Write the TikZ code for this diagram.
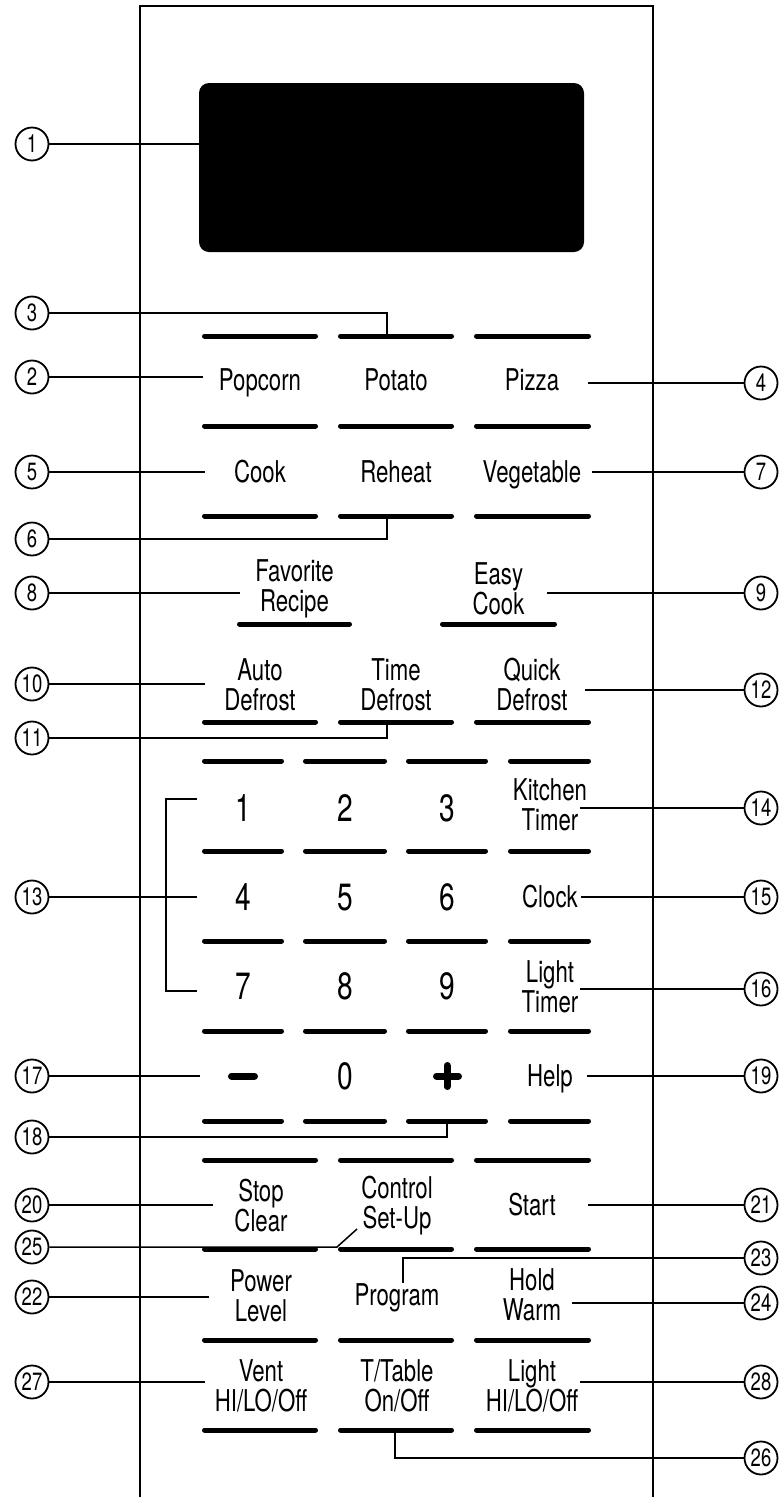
\documentclass[tikz,border=0pt]{standalone}
\usepackage{fontspec}
\setmainfont{TeX Gyre Heros}[FakeStretch=0.74]
\begin{document}
\begin{tikzpicture}[x=1pt,y=-1pt]
    \tikzset{%
      panel/.style={line width=2.6pt},
      bar/.style={line width=5pt, line cap=round},
      lead/.style={line width=1.5pt},
      num/.style={circle, draw, line width=1.8pt, minimum size=33pt,
        inner sep=0pt, fill=white, font=\fontsize{25}{25}\selectfont},
      word/.style={anchor=base, inner sep=0pt, font=\fontsize{30}{30}\selectfont},
      twoline/.style={align=center, inner sep=0pt, font=\fontsize{30}{30}\selectfont},
      digit/.style={anchor=base, inner sep=0pt, font=\fontsize{38}{38}\selectfont},
      sign/.style={line width=7pt, line cap=round},
      display/.style={fill=black, rounded corners=10pt, inner sep=0pt,
        minimum width=385pt, minimum height=169pt},
    }
    \useasboundingbox (0,0) rectangle (782,1497);
    % front panel, open at the bottom
    \draw [panel] (140,1497) -- (140,6) -- (653,6) -- (653,1497);
    \node[display] (disp) at (391.5,167.5) {};

    % key bars
    \foreach \y in {336,426,516,722,1160,1249,1340,1430}
      \foreach \a/\b in {204.5/315.5,340.5/451.5,476.5/588.5}
        \draw [bar] (\a,\y) -- (\b,\y);
    \draw [bar] (239.5,624) -- (349.5,624);
    \draw [bar] (442.5,624) -- (554.5,624);
    \foreach \y in {761,851,941,1031,1121}
      \foreach \a/\b in {204.5/281.5,305.5/384.5,408.5/485.5,510.5/588.5}
        \draw [bar] (\a,\y) -- (\b,\y);

    % key labels
    \node[word] (popcorn) at (260,390) {Popcorn};
    \node[word] (potato) at (396,390) {Potato};
    \node[word] (pizza) at (532,390) {Pizza};
    \node[word] (cook) at (260,482) {Cook};
    \node[word] (reheat) at (396,482) {Reheat};
    \node[word] (vegetable) at (532,482) {Vegetable};
    \node[twoline] (favorite) at (294.5,589) {Favorite\\Recipe};
    \node[twoline] (easy) at (498.5,589) {Easy\\Cook};
    \node[twoline] (autodef) at (260,685) {Auto\\Defrost};
    \node[twoline] (timedef) at (396,685) {Time\\Defrost};
    \node[twoline] (quickdef) at (532,685) {Quick\\Defrost};
    \node[digit] (d1) at (243,821) {1};
    \node[digit] (d2) at (345,821) {2};
    \node[digit] (d3) at (447,821) {3};
    \node[twoline] (ktimer) at (550,805) {Kitchen\\Timer};
    \node[digit] (d4) at (243,910) {4};
    \node[digit] (d5) at (345,910) {5};
    \node[digit] (d6) at (447,910) {6};
    \node[word] (clock) at (550,907) {Clock};
    \node[digit] (d7) at (243,999) {7};
    \node[digit] (d8) at (345,999) {8};
    \node[digit] (d9) at (447,999) {9};
    \node[twoline] (ltimer) at (550,987) {Light\\Timer};
    \draw [sign] (231.5,1076) -- (254.5,1076);
    \node[digit] (d0) at (345,1089) {0};
    \draw [sign] (436.5,1076) -- (458.5,1076);
    \draw [sign] (447,1065.5) -- (447,1086.5);
    \node[word] (help) at (550,1086) {Help};
    \node[twoline] (stop) at (261,1206) {Stop\\Clear};
    \node[twoline] (control) at (397,1206) {Control\\Set-Up};
    \node[word] (start) at (532,1215) {Start};
    \node[twoline] (power) at (261,1296) {Power\\Level};
    \node[word] (program) at (397,1305) {Program};
    \node[twoline] (hold) at (532,1295) {Hold\\Warm};
    \node[twoline] (vent) at (261,1386) {Vent\\HI/LO/Off};
    \node[twoline] (ttable) at (397,1386) {T/Table\\On/Off};
    \node[twoline] (light) at (532,1386) {Light\\HI/LO/Off};

    % callouts, left side
    \node[num] (c1) at (32,144) {1};
    \draw [lead] (c1) -- (c1 -| disp.west);
    \foreach \n/\y/\x in {2/377/203,5/472/205,8/593/240,10/684/205,
        13/897/197,17/1076/200,20/1205/213,22/1297/209,27/1382/205} {
      \node[num] (c\n) at (32,\y) {\n};
      \coordinate (e\n) at (\x,\y);
      \draw [lead] (c\n) -- (e\n);
    }
    % callouts, right side
    \foreach \n/\y/\x in {4/383/588,7/472/592,9/593/547,12/690/585,
        14/808/580,15/897/581,16/989/580,19/1076/587,21/1205/588,
        24/1303/572,28/1382/580} {
      \node[num] (c\n) at (761,\y) {\n};
      \coordinate (e\n) at (\x,\y);
      \draw [lead] (c\n) -- (e\n);
    }
    % bent callouts
    \node[num] (c3) at (32,313) {3};
    \coordinate (e3) at (387,334);
    \draw [lead] (c3) -| (e3);
    \node[num] (c6) at (32,539) {6};
    \coordinate (e6) at (387,518);
    \draw [lead] (c6) -| (e6);
    \node[num] (c11) at (32,738) {11};
    \coordinate (e11) at (387,724);
    \draw [lead] (c11) -| (e11);
    \node[num] (c18) at (32,1137) {18};
    \coordinate (e18) at (447,1123);
    \draw [lead] (c18) -| (e18);
    \node[num] (c25) at (32,1247) {25};
    \coordinate (e25) at (357,1229);
    \draw [lead] (c25) -- (337,1247) -- (e25);
    \node[num] (c23) at (761,1258) {23};
    \coordinate (e23) at (403,1283);
    \draw [lead] (c23) -| (e23);
    \node[num] (c26) at (761,1458) {26};
    \coordinate (e26) at (395,1432);
    \draw [lead] (c26) -| (e26);
    % bracket round the number keys
    \coordinate (b13t) at (197,799);
    \coordinate (b13b) at (197,991);
    \draw [lead] (b13t) -- (166,799) -- (166,991) -- (b13b);
\end{tikzpicture}
\end{document}
